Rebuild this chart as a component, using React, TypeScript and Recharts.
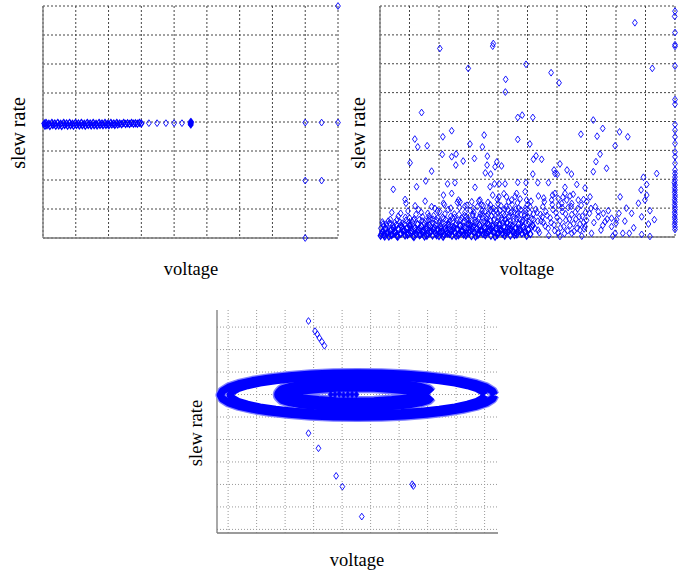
import React from 'react';
import { ScatterChart, Scatter, XAxis, YAxis, CartesianGrid } from 'recharts';

type Pt = [number, number];

// ---------- top-left panel ----------
const tlXTicks = [0, 1, 2, 3, 4, 5, 6, 7, 8, 9];
const tlYTicks = [0, 1, 2, 3, 4, 5, 6, 7, 8];

const tlBand: Pt[] = [
  [0.04, 3.95], [0.06, 3.87], [0.09, 3.97], [0.12, 3.89], [0.18, 3.94], [0.21, 3.86], [0.27, 3.97], [0.30, 3.90],
  [0.36, 3.95], [0.39, 3.87], [0.45, 3.97], [0.48, 3.88], [0.54, 3.94], [0.57, 3.86], [0.63, 3.97], [0.66, 3.90],
  [0.72, 3.95], [0.75, 3.87], [0.81, 3.97], [0.84, 3.89], [0.90, 3.94], [0.93, 3.87], [0.99, 3.97], [1.02, 3.90],
  [1.08, 3.95], [1.11, 3.88], [1.17, 3.97], [1.20, 3.89], [1.26, 3.94], [1.29, 3.87], [1.35, 3.97], [1.38, 3.90],
  [1.44, 3.95], [1.47, 3.88], [1.53, 3.97], [1.56, 3.89], [1.62, 3.94], [1.65, 3.88], [1.71, 3.97], [1.74, 3.90],
  [1.80, 3.95], [1.83, 3.89], [1.89, 3.97], [1.92, 3.90], [1.98, 3.94], [2.01, 3.89], [2.07, 3.97], [2.10, 3.91],
  [2.16, 3.95], [2.19, 3.90], [2.25, 3.97], [2.28, 3.91], [2.34, 3.95], [2.40, 3.92], [2.46, 3.97], [2.52, 3.93],
  [2.58, 3.96], [2.64, 3.93], [2.70, 3.97], [2.76, 3.94], [2.82, 3.96], [2.88, 3.94], [2.94, 3.97], [3.00, 3.95],
];
const tlTail: Pt[] = [[3.23, 3.96], [3.48, 3.96], [3.75, 3.96], [4.0, 3.96], [4.24, 3.96]];
const tlBlob: Pt[] = [[4.51, 3.9], [4.51, 3.96], [4.51, 4.02], [4.5, 3.93], [4.52, 3.99]];
const tlOutliers: Pt[] = [[8, 3.98], [8.5, 3.98], [9, 3.98], [8, 1.98], [8.5, 1.98], [8, 0], [9, 8]];

// ---------- top-right panel ----------
const trXTicks = [0, 1, 2, 3, 4, 5, 6, 7, 8, 9, 10];
const trYTicks = [0, 1, 2, 3, 4, 5, 6, 7, 8];

const trBottom: Pt[] = [
  [0.02, 0.04], [0.08, 0.18], [0.13, 0.07], [0.19, 0.30], [0.24, 0.12], [0.30, 0.02], [0.35, 0.22], [0.41, 0.09],
  [0.46, 0.33], [0.52, 0.15], [0.57, 0.04], [0.63, 0.26], [0.68, 0.10], [0.74, 0.36], [0.79, 0.19], [0.85, 0.05],
  [0.90, 0.29], [0.96, 0.13], [1.01, 0.40], [1.07, 0.21], [1.12, 0.03], [1.18, 0.31], [1.23, 0.11], [1.29, 0.24],
  [1.34, 0.06], [1.40, 0.38], [1.45, 0.17], [1.51, 0.02], [1.56, 0.28], [1.62, 0.12], [1.67, 0.42], [1.73, 0.20],
  [1.78, 0.05], [1.84, 0.33], [1.89, 0.14], [1.95, 0.25], [2.00, 0.03], [2.06, 0.37], [2.11, 0.18], [2.17, 0.08],
  [2.22, 0.30], [2.28, 0.12], [2.33, 0.44], [2.39, 0.22], [2.44, 0.04], [2.50, 0.34], [2.55, 0.15], [2.61, 0.27],
  [2.66, 0.06], [2.72, 0.40], [2.77, 0.19], [2.83, 0.09], [2.88, 0.32], [2.94, 0.13], [2.99, 0.46], [3.05, 0.23],
  [3.10, 0.03], [3.16, 0.36], [3.21, 0.16], [3.27, 0.28], [3.32, 0.07], [3.38, 0.42], [3.43, 0.20], [3.49, 0.10],
  [3.54, 0.33], [3.60, 0.14], [3.65, 0.48], [3.71, 0.25], [3.76, 0.04], [3.82, 0.38], [3.87, 0.17], [3.93, 0.29],
  [3.98, 0.08], [4.04, 0.44], [4.09, 0.21], [4.15, 0.11], [4.20, 0.35], [4.26, 0.15], [4.31, 0.50], [4.37, 0.26],
  [4.42, 0.05], [4.48, 0.39], [4.53, 0.18], [4.59, 0.30], [4.64, 0.09], [4.70, 0.45], [4.75, 0.22], [4.81, 0.12],
  [4.86, 0.36], [4.92, 0.16], [4.97, 0.04], [5.03, 0.27], [5.10, 0.10], [5.18, 0.40],
  [0.05, 0.10], [0.16, 0.02], [0.27, 0.16], [0.38, 0.06], [0.49, 0.20], [0.60, 0.01], [0.71, 0.12], [0.82, 0.24],
  [0.93, 0.07], [1.04, 0.15], [1.15, 0.00], [1.26, 0.19], [1.37, 0.09], [1.48, 0.23], [1.59, 0.04], [1.70, 0.14],
  [1.81, 0.26], [1.92, 0.06], [2.03, 0.17], [2.14, 0.01], [2.25, 0.21], [2.36, 0.10], [2.47, 0.25], [2.58, 0.03],
  [2.69, 0.13], [2.80, 0.22], [2.91, 0.05], [3.02, 0.15], [3.13, 0.27], [3.24, 0.02], [3.35, 0.12], [3.46, 0.24],
  [3.57, 0.06], [3.68, 0.18], [3.79, 0.28], [3.90, 0.01], [4.01, 0.14], [4.12, 0.25], [4.23, 0.04], [4.34, 0.17],
  [4.45, 0.28], [4.56, 0.07], [4.67, 0.19],
];

const trFill: Pt[] = [
  [0.03, 0.30], [0.10, 0.45], [0.17, 0.14], [0.23, 0.38], [0.33, 0.48], [0.39, 0.28], [0.47, 0.10], [0.55, 0.42],
  [0.61, 0.30], [0.67, 0.52], [0.77, 0.27], [0.83, 0.44], [0.91, 0.16], [0.98, 0.50], [1.05, 0.32], [1.14, 0.58],
  [1.20, 0.22], [1.27, 0.46], [1.36, 0.30], [1.43, 0.10], [1.50, 0.48],
  [1.58, 0.33], [1.64, 0.58], [1.72, 0.36], [1.79, 0.62], [1.87, 0.42], [1.94, 0.20], [2.01, 0.52], [2.09, 0.30],
  [2.16, 0.64], [2.24, 0.42], [2.30, 0.16], [2.37, 0.56], [2.45, 0.36], [2.53, 0.68], [2.59, 0.48], [2.65, 0.24],
  [2.74, 0.58], [2.81, 0.38], [2.87, 0.74], [2.95, 0.26], [3.01, 0.60], [3.08, 0.40], [3.15, 0.78], [3.20, 0.50],
  [3.28, 0.18], [3.34, 0.62], [3.41, 0.36], [3.47, 0.80],
  [3.52, 0.55], [3.58, 0.28], [3.63, 0.72], [3.69, 0.44], [3.75, 0.92], [3.81, 0.20], [3.88, 0.62], [3.94, 0.40],
  [4.00, 0.82], [4.06, 0.30], [4.12, 0.66], [4.17, 0.48], [4.23, 0.96], [4.29, 0.26], [4.35, 0.70], [4.41, 0.42],
  [4.47, 0.88], [4.53, 0.62], [4.58, 0.14], [4.65, 0.78], [4.71, 0.32], [4.77, 0.94], [4.83, 0.56], [4.89, 0.26],
  [4.95, 0.66], [5.02, 0.44], [5.08, 0.84], [5.14, 0.34], [5.21, 0.60], [5.28, 0.96], [5.36, 0.24], [5.44, 0.78],
  [5.54, 0.50], [5.62, 0.88], [5.70, 0.30], [5.77, 0.66], [5.84, 1.12], [5.90, 0.42], [5.97, 0.84], [6.04, 0.14],
  [6.10, 0.56], [6.17, 1.02], [6.23, 0.36], [6.29, 0.80], [6.36, 0.22], [6.42, 0.62], [6.48, 1.06], [6.56, 0.46],
  [6.62, 0.86], [6.68, 0.30], [6.75, 0.70], [6.82, 1.10], [6.90, 0.50], [6.97, 0.86],
];

const trMiddle: Pt[] = [
  [0.08, 0.52], [0.22, 0.45], [0.35, 0.61], [0.50, 0.50], [0.62, 0.72], [0.75, 0.48], [0.88, 0.58], [1.00, 0.66],
  [1.10, 0.52], [1.22, 0.78], [1.33, 0.60], [1.44, 0.70], [1.55, 0.55], [0.40, 0.85], [0.95, 0.90], [1.30, 0.95],
  [1.62, 0.82], [1.70, 0.63], [1.82, 0.74], [1.93, 0.57], [2.02, 0.88], [2.12, 0.68], [2.23, 0.60], [2.31, 0.95],
  [2.40, 0.72], [2.52, 0.80], [2.60, 0.58], [2.70, 1.02], [2.78, 0.66], [2.88, 0.85], [2.96, 0.62], [3.05, 0.92],
  [3.14, 0.74], [3.22, 0.58], [3.30, 1.05], [3.40, 0.80], [3.48, 0.66], [1.75, 1.05], [2.18, 1.12], [2.62, 1.20],
  [2.95, 1.10], [3.35, 1.25], [3.55, 0.88], [3.62, 0.62], [3.70, 1.00], [3.78, 0.74], [3.86, 0.58], [3.93, 0.92],
  [4.02, 0.70], [4.10, 1.08], [4.18, 0.82], [4.25, 0.60], [4.33, 0.95], [4.40, 0.72], [4.48, 1.12], [4.55, 0.86],
  [4.63, 0.64], [4.70, 1.00], [4.78, 0.78], [4.85, 0.58], [4.92, 0.90], [5.00, 0.70], [5.08, 1.05], [5.15, 0.62],
  [3.66, 1.20], [3.98, 1.30], [4.36, 1.22], [4.75, 1.32], [5.12, 1.24], [3.82, 1.45], [4.20, 1.50], [4.58, 1.40],
  [5.25, 0.30], [5.32, 0.85], [5.40, 0.15], [5.46, 0.55], [5.52, 1.05], [5.60, 0.38], [5.66, 0.75], [5.72, 0.05],
  [5.80, 0.50], [5.86, 0.95], [5.92, 0.22], [6.00, 0.68], [6.06, 1.10], [6.12, 0.32], [6.18, 0.88], [6.25, 0.12],
  [6.30, 0.58], [6.38, 1.02], [6.44, 0.40], [6.50, 0.78], [6.58, 0.20], [6.64, 0.62], [6.70, 0.98], [6.78, 0.45],
  [6.86, 0.72], [6.92, 0.28], [7.00, 0.58], [5.55, 1.35], [5.85, 1.45], [6.20, 1.38], [6.55, 1.48], [6.90, 1.30],
  [7.10, 0.82], [7.25, 0.50], [7.40, 0.70], [7.55, 0.40], [7.70, 0.62], [8.00, 0.48], [8.30, 0.55], [8.60, 0.32],
  [9.10, 0.45], [9.30, 0.60], [7.30, 1.05], [8.35, 1.00],
  [0.85, 1.30], [0.88, 1.17], [1.19, 1.08], [1.53, 1.24], [1.86, 0.99], [2.15, 1.45], [2.15, 1.17], [2.43, 1.51],
  [2.66, 1.28], [2.71, 1.22], [2.88, 1.07], [3.11, 1.22], [3.16, 0.99], [3.39, 1.28], [3.45, 1.11], [3.74, 1.11],
  [3.85, 0.99], [4.03, 1.39], [4.29, 1.39], [4.46, 1.28], [4.63, 1.51], [4.92, 1.57], [4.97, 1.28], [4.92, 0.99],
  [5.37, 1.42], [5.57, 1.22], [5.82, 1.28], [5.93, 1.51], [6.04, 1.33], [6.16, 1.16], [6.27, 1.51], [6.33, 1.28],
  [6.44, 1.42], [6.50, 1.16], [6.72, 1.28], [7.01, 1.22], [7.12, 1.39], [7.15, 0.99], [7.40, 0.88], [7.57, 0.82],
  [7.74, 0.91], [7.85, 0.65], [8.02, 0.61], [8.10, 0.82], [8.14, 1.39], [8.76, 1.17], [8.87, 0.70], [8.53, 0.82],
  [9.15, 0.91], [9.04, 1.45], [8.98, 1.28], [7.89, 0.03], [8.23, 0.13], [8.45, 0.13], [8.87, 0.09], [9.15, 0.02],
  [6.95, 0.36], [7.17, 0.13], [7.49, 0.24], [7.63, 0.53], [7.85, 0.36], [7.97, 0.13], [6.10, 0.02], [6.50, 0.13],
  [6.78, 0.24], [6.84, 0.03],
  [0.12, 0.38], [0.28, 0.55], [0.44, 0.42], [0.58, 0.60], [0.70, 0.40], [0.86, 0.68], [1.02, 0.46], [1.16, 0.63],
  [1.28, 0.44], [1.42, 0.56], [1.58, 0.40], [1.66, 0.72], [1.80, 0.48], [1.96, 0.66], [2.08, 0.46], [2.20, 0.80],
  [2.34, 0.52], [2.46, 0.66], [2.56, 0.44], [2.68, 0.78], [2.82, 0.52], [2.92, 0.70], [3.04, 0.46], [3.18, 0.86],
  [3.26, 0.52], [3.36, 0.68], [3.46, 0.90], [3.58, 0.50], [3.66, 0.78], [3.74, 0.56], [3.84, 0.86], [3.96, 0.50],
  [4.06, 0.92], [4.14, 0.58], [4.22, 0.74], [4.30, 0.48], [4.44, 0.84], [4.52, 0.54], [4.60, 0.96], [4.68, 0.70],
  [4.82, 0.50], [4.90, 0.76], [5.05, 0.52], [5.20, 0.80], [5.35, 0.55], [5.50, 0.70], [4.00, 1.15], [4.28, 1.05],
  [4.66, 1.18], [5.00, 1.12], [3.50, 1.08], [2.40, 1.00], [1.95, 0.90], [1.40, 0.85], [0.70, 0.82],
];

const trUpper: Pt[] = [
  [2.03, 6.53], [3.84, 6.70], [3.82, 6.61], [2.99, 5.84], [4.95, 5.98], [5.80, 5.69], [6.07, 5.34], [4.26, 5.46],
  [4.25, 5.02], [8.64, 7.42], [9.23, 5.84], [1.41, 4.31], [4.67, 4.14], [4.82, 4.22], [5.18, 4.14], [7.23, 4.05],
  [7.55, 3.76], [8.12, 3.64], [8.40, 3.47], [6.81, 3.56], [7.36, 3.49], [2.43, 3.68], [2.13, 3.47], [1.18, 3.39],
  [1.28, 3.12], [1.60, 3.16], [3.53, 3.53], [3.05, 3.22], [3.47, 3.12], [4.67, 3.38], [5.08, 3.22], [7.97, 3.16],
  [1.02, 2.57], [1.75, 2.28], [2.11, 2.86], [2.43, 2.78], [2.58, 2.87], [2.57, 2.49], [2.82, 2.63], [3.20, 2.72],
  [3.64, 2.80], [3.63, 2.49], [3.57, 2.22], [3.75, 2.18], [3.96, 2.60], [4.12, 2.46], [3.90, 2.43], [5.20, 2.69],
  [5.29, 2.81], [5.48, 2.69], [5.18, 2.18], [6.10, 2.53], [5.90, 2.32], [5.93, 2.20], [6.01, 2.17], [6.34, 2.32],
  [6.49, 2.18], [7.23, 2.26], [7.32, 2.61], [7.46, 2.87], [7.68, 2.38], [9.38, 2.20], [8.93, 2.07], [0.45, 1.65],
  [1.24, 1.74], [1.55, 1.94], [2.29, 1.84], [2.54, 1.88], [3.22, 1.72], [3.73, 1.74], [3.88, 1.84], [4.04, 1.84],
  [4.24, 1.84], [4.67, 1.89], [4.95, 1.88], [5.35, 1.88], [5.71, 1.88], [6.27, 1.72], [6.67, 1.82], [6.95, 1.70],
  [8.85, 1.63], [9.04, 1.82],
];

const trRightEdge: Pt[] = [
  [10, 7.82], [9.99, 7.64], [10, 7.08], [10, 6.66], [10, 6.60], [10, 5.92], [10, 4.76], [10, 4.60], [10, 3.90],
  [10, 3.70], [10, 3.47], [10, 3.24], [10, 2.95], [10, 2.78], [10, 2.55], [10, 2.32], [10, 2.20], [10, 2.08],
  [10, 1.97], [9.98, 1.88], [10, 1.80], [9.99, 1.71], [10, 1.63], [9.99, 1.55], [10, 1.46], [10, 1.38], [9.99, 1.29],
  [10, 1.21], [9.99, 1.12], [10, 1.04], [10, 0.95], [9.99, 0.86], [10, 0.78], [9.99, 0.69], [10, 0.61], [10, 0.52],
  [9.99, 0.44], [10, 0.35], [10, 0.26],
];

// ---------- bottom panel ----------
const btXTicks = [0, 1, 2, 3, 4, 5, 6, 7, 8, 9];
const btYTicks = [0, 1, 2, 3, 4, 5, 6, 7, 8, 9];

const btRingOuter: Pt[] = [
  [9.35, 5.98], [9.28, 6.15], [9.06, 6.32], [8.71, 6.47], [8.22, 6.61], [7.63, 6.73], [6.95, 6.83], [6.19, 6.90],
  [5.38, 6.95], [4.54, 6.96], [3.70, 6.95], [2.90, 6.90], [2.14, 6.83], [1.45, 6.73], [0.86, 6.61], [0.37, 6.47],
  [0.02, 6.32], [-0.20, 6.15], [-0.27, 5.98], [-0.20, 5.81], [0.02, 5.64], [0.37, 5.49], [0.86, 5.35], [1.45, 5.23],
  [2.14, 5.13], [2.90, 5.06], [3.70, 5.01], [4.54, 5.00], [5.38, 5.01], [6.19, 5.06], [6.95, 5.13], [7.63, 5.23],
  [8.22, 5.35], [8.71, 5.49], [9.06, 5.64], [9.28, 5.81], [9.35, 5.98],
];
const btRingMiddle: Pt[] = [
  [9.00, 5.98], [8.93, 6.13], [8.73, 6.27], [8.40, 6.40], [7.96, 6.52], [7.41, 6.62], [6.77, 6.71], [6.07, 6.77],
  [5.32, 6.81], [4.54, 6.82], [3.76, 6.81], [3.01, 6.77], [2.31, 6.71], [1.67, 6.62], [1.12, 6.52], [0.68, 6.40],
  [0.35, 6.27], [0.15, 6.13], [0.08, 5.98], [0.15, 5.83], [0.35, 5.69], [0.68, 5.56], [1.12, 5.44], [1.67, 5.34],
  [2.31, 5.25], [3.01, 5.19], [3.76, 5.15], [4.54, 5.14], [5.32, 5.15], [6.07, 5.19], [6.77, 5.25], [7.41, 5.34],
  [7.96, 5.44], [8.40, 5.56], [8.73, 5.69], [8.93, 5.83], [9.00, 5.98],
];
const btRingInner: Pt[] = [
  [7.06, 6.00], [6.97, 6.12], [6.71, 6.22], [6.30, 6.31], [5.76, 6.38], [5.13, 6.43], [4.46, 6.44], [3.79, 6.43],
  [3.16, 6.38], [2.62, 6.31], [2.21, 6.22], [1.95, 6.12], [1.86, 6.00], [1.95, 5.88], [2.21, 5.78], [2.62, 5.69],
  [3.16, 5.62], [3.79, 5.57], [4.46, 5.56], [5.13, 5.57], [5.76, 5.62], [6.30, 5.69], [6.71, 5.78], [6.97, 5.88],
  [7.06, 6.00],
];
const btCore: Pt[] = [[3.6, 6.0], [3.75, 6.0], [3.9, 6.02], [4.05, 5.98], [4.2, 6.0], [4.35, 6.0], [4.5, 6.0]];
const btStrays: Pt[] = [
  [2.82, 9.27], [3.05, 8.82], [3.13, 8.68], [3.20, 8.52], [3.29, 8.35], [3.38, 8.17], [2.82, 4.28], [3.17, 3.61],
  [3.79, 2.38], [4.01, 1.90], [4.69, 0.57], [6.46, 2.01], [6.50, 1.93],
];

const BLUE = '#0000ff';
const HALO = '#8080ff';
const FONT = '"Times New Roman", "Liberation Serif", serif';

const rows = (pts: Pt[]) => pts.map(([x, y]) => ({ x, y }));

const diamondPath = (cx: number, cy: number, w: number, h: number) =>
  `M${cx},${cy - h}L${cx + w},${cy}L${cx},${cy + h}L${cx - w},${cy}Z`;

const OpenDiamond = (p: any) => {
  if (p.cx == null || p.cy == null) return <g />;
  return <path d={diamondPath(p.cx, p.cy, 2.4, 3.4)} fill="none" stroke={BLUE} strokeWidth={0.9} />;
};

// slightly heavier outline for the crowded strip along the bottom
const HeavyDiamond = (p: any) => {
  if (p.cx == null || p.cy == null) return <g />;
  return <path d={diamondPath(p.cx, p.cy, 2.4, 3.4)} fill="none" stroke={BLUE} strokeWidth={1.25} />;
};

const SolidDiamond = (p: any) => {
  if (p.cx == null || p.cy == null) return <g />;
  return <path d={diamondPath(p.cx, p.cy, 2.6, 3.5)} fill={BLUE} stroke={BLUE} strokeWidth={0.6} />;
};

const NoMark = () => <g />;
const NoTick = () => <g />;

interface PanelProps {
  left: number;
  top: number;
  width: number;
  height: number;
  margin: { top: number; right: number; bottom: number; left: number };
  xDomain: [number, number];
  yDomain: [number, number];
  xTicks: number[];
  yTicks: number[];
  gridColor: string;
  gridDash: string;
  children: React.ReactNode;
}

// axes get 1px of room (a zero-sized axis is not drawn), so the margins are one pixel smaller
const Panel = ({ left, top, width, height, margin, xDomain, yDomain, xTicks, yTicks, gridColor, gridDash, children }: PanelProps) => (
  <div style={{ position: 'absolute', left, top, width, height }}>
    <ScatterChart
      width={width}
      height={height}
      margin={{ top: margin.top, right: margin.right, bottom: margin.bottom - 1, left: margin.left - 1 }}
    >
      <CartesianGrid stroke={gridColor} strokeDasharray={gridDash} syncWithTicks />
      <XAxis
        type="number"
        dataKey="x"
        domain={xDomain}
        ticks={xTicks}
        interval={0}
        height={1}
        tick={NoTick}
        tickLine={false}
        axisLine={{ stroke: '#7a7a7a', strokeWidth: 1.3 }}
      />
      <YAxis
        type="number"
        dataKey="y"
        domain={yDomain}
        ticks={yTicks}
        interval={0}
        width={1}
        tick={NoTick}
        tickLine={false}
        axisLine={{ stroke: '#7a7a7a', strokeWidth: 1.3 }}
      />
      {children}
    </ScatterChart>
  </div>
);

const AxisText = ({ x, y, text, size, rotate }: { x: number; y: number; text: string; size: number; rotate?: boolean }) => (
  <text
    x={x}
    y={y}
    fontSize={size}
    fontFamily={FONT}
    fill="#000"
    textAnchor="middle"
    dominantBaseline="central"
    transform={rotate ? `rotate(-90 ${x} ${y})` : undefined}
  >
    {text}
  </text>
);

const ring = (pts: Pt[], color: string, width: number) => (
  <Scatter
    data={rows(pts)}
    shape={NoMark}
    line={{ stroke: color, strokeWidth: width, strokeLinejoin: 'round' }}
    lineType="joint"
    isAnimationActive={false}
  />
);

export default function App() {
  return (
    <div style={{ position: 'absolute', left: 0, top: 0, width: 690, height: 576, background: '#fff', overflow: 'hidden' }}>
      {/* top left: narrow band */}
      <Panel
        left={0}
        top={0}
        width={345}
        height={280}
        margin={{ top: 6, right: 7, bottom: 42, left: 43 }}
        xDomain={[0, 9]}
        yDomain={[0, 8]}
        xTicks={tlXTicks}
        yTicks={tlYTicks}
        gridColor="#444"
        gridDash="2 2"
      >
        <Scatter data={rows(tlBand)} shape={HeavyDiamond} isAnimationActive={false} />
        <Scatter data={rows(tlTail)} shape={OpenDiamond} isAnimationActive={false} />
        <Scatter data={rows(tlBlob)} shape={SolidDiamond} isAnimationActive={false} />
        <Scatter data={rows(tlOutliers)} shape={OpenDiamond} isAnimationActive={false} />
      </Panel>

      {/* top right: spread cloud */}
      <Panel
        left={345}
        top={0}
        width={345}
        height={280}
        margin={{ top: 6, right: 15, bottom: 43, left: 35 }}
        xDomain={[0, 10]}
        yDomain={[0, 8]}
        xTicks={trXTicks}
        yTicks={trYTicks}
        gridColor="#444"
        gridDash="2 2"
      >
        <Scatter data={rows(trBottom)} shape={HeavyDiamond} isAnimationActive={false} />
        <Scatter data={rows(trFill)} shape={OpenDiamond} isAnimationActive={false} />
        <Scatter data={rows(trMiddle)} shape={OpenDiamond} isAnimationActive={false} />
        <Scatter data={rows(trUpper)} shape={OpenDiamond} isAnimationActive={false} />
        <Scatter data={rows(trRightEdge)} shape={OpenDiamond} isAnimationActive={false} />
      </Panel>

      {/* bottom: rings */}
      <Panel
        left={180}
        top={290}
        width={330}
        height={286}
        margin={{ top: 20, right: 12, bottom: 43, left: 37 }}
        xDomain={[-0.39, 9.47]}
        yDomain={[-0.16, 9.76]}
        xTicks={btXTicks}
        yTicks={btYTicks}
        gridColor="#999"
        gridDash="1 2"
      >
        {ring(btRingOuter, HALO, 10)}
        {ring(btRingInner, HALO, 17)}
        {ring(btRingOuter, BLUE, 7.5)}
        {ring(btRingMiddle, BLUE, 7.5)}
        {ring(btRingInner, BLUE, 14)}
        <Scatter data={rows(btCore)} shape={SolidDiamond} isAnimationActive={false} />
        <Scatter data={rows(btStrays)} shape={OpenDiamond} isAnimationActive={false} />
      </Panel>

      <svg width={690} height={576} style={{ position: 'absolute', left: 0, top: 0, pointerEvents: 'none' }}>
        <AxisText x={18} y={133} text="slew rate" size={20} rotate />
        <AxisText x={191} y={269} text="voltage" size={18.5} />
        <AxisText x={358} y={133} text="slew rate" size={20} rotate />
        <AxisText x={527} y={269} text="voltage" size={18.5} />
        <AxisText x={196} y={433} text="slew rate" size={18.5} rotate />
        <AxisText x={357} y={560} text="voltage" size={18.5} />
      </svg>
    </div>
  );
}
